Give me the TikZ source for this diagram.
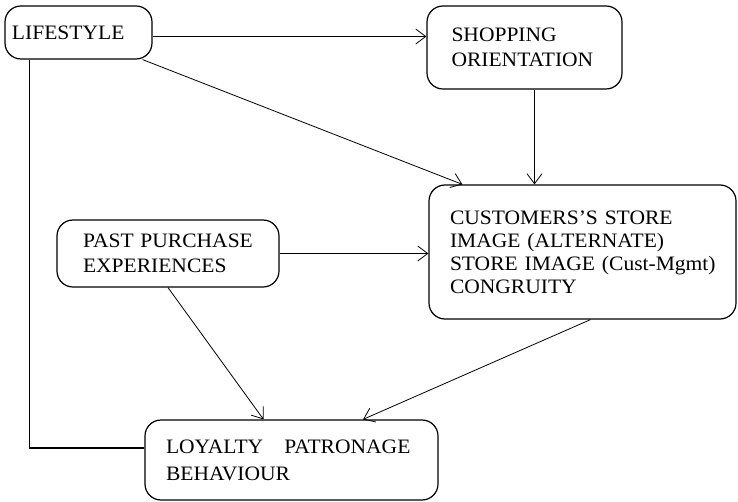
\documentclass[tikz,border=0pt]{standalone}
\usepackage{fontspec}
\setmainfont{Liberation Serif}[FakeStretch=1.05]
\usetikzlibrary{arrows.meta}
\tikzset{>={Straight Barb[length=10pt,width=15pt]},
  every node/.style={font=\fontsize{20.5}{25}\selectfont},
  factor/.style={draw,line width=1.2pt,rounded corners=16pt,align=left,
    inner xsep=0pt,inner ysep=0pt},
  link/.style={->,line width=.8pt},
  tie/.style={line width=1.2pt}}

\begin{document}
\begin{tikzpicture}[x=1pt,y=-1pt]
\useasboundingbox (0,0) rectangle (738,502);
\node[factor,minimum width=147pt,minimum height=53pt,text width=133pt](life)at(78.5,32.5){LIFESTYLE};
\node[factor,minimum width=195pt,minimum height=83pt,text width=146pt](shop)at(524.5,47.5){SHOPPING\\ORIENTATION};
\node[factor,minimum width=307pt,minimum height=134pt,text width=265pt,
  font=\fontsize{20.5}{23}\selectfont](cust)at(582.5,252){CUSTOMERS'S STORE\\IMAGE (ALTERNATE)\\\mbox{STORE IMAGE (Cust-Mgmt)}\\CONGRUITY};
\node[factor,minimum width=222pt,minimum height=67pt,text width=170pt](past)at(168,253.5){PAST PURCHASE\\EXPERIENCES};
\node[factor,minimum width=293pt,minimum height=80pt,text width=251pt,
  font=\fontsize{20.5}{27}\selectfont](loy)at(291.5,460){LOYALTY\hspace{.7em} PATRONAGE\\BEHAVIOUR};
% connectors
\draw[link]([yshift=-4pt]life.east)--([yshift=-4pt]life.east -| shop.west);
\draw[link]([xshift=-10pt]life.south east)--([xshift=34pt]cust.north west);
\draw[link]([xshift=10pt]shop.south)--([xshift=10pt]cust.north -| shop.south);
\draw[link](past.east)--(past.east -| cust.west);
\draw[link](past.south)--([xshift=-28pt]loy.north);
\draw[link]([xshift=8pt]cust.south)--([xshift=71.5pt]loy.north);
\draw[tie]([xshift=25pt]life.south west)|-([yshift=12pt]loy.west);
\end{tikzpicture}
\end{document}
